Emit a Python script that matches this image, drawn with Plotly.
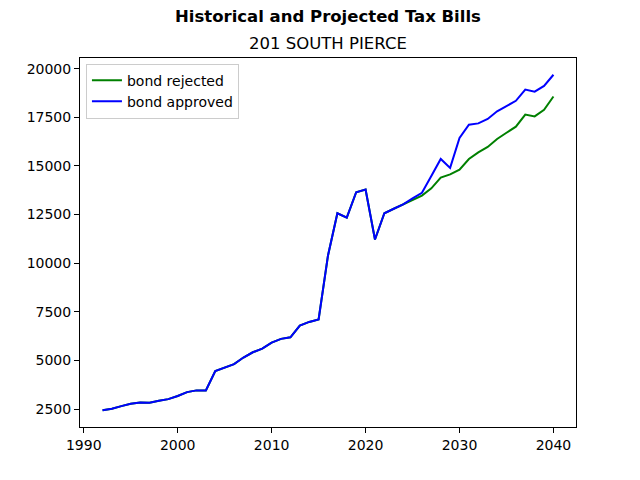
import plotly.graph_objects as go

years = list(range(1992, 2041))

bond_approved = [
    2440, 2515, 2650, 2770, 2840, 2820, 2925, 3010, 3170, 3370,
    3460, 3460, 4450, 4640, 4810, 5150, 5420, 5610, 5920, 6110,
    6190, 6790, 6980, 7110, 10400, 12570, 12340, 13650, 13790, 11220,
    12570, 12800, 13030, 13330, 13620, 14480, 15360, 14900, 16440, 17120,
    17190, 17420, 17810, 18080, 18350, 18930, 18820, 19120, 19690,
]

bond_rejected = [
    2440, 2515, 2650, 2770, 2840, 2820, 2925, 3010, 3170, 3370,
    3460, 3460, 4450, 4640, 4810, 5150, 5420, 5610, 5920, 6110,
    6190, 6790, 6980, 7110, 10400, 12570, 12340, 13650, 13790, 11220,
    12570, 12800, 13030, 13230, 13480, 13850, 14400, 14570, 14810, 15360,
    15700, 15980, 16390, 16710, 17020, 17640, 17550, 17890, 18575,
]

x_ticks = [1990, 2000, 2010, 2020, 2030, 2040]
y_ticks = [2500, 5000, 7500, 10000, 12500, 15000, 17500, 20000]

main_title = "Historical and Projected Tax Bills"
sub_title = "201 SOUTH PIERCE"

xmin, xmax = min(years), max(years)
xpad = (xmax - xmin) * 0.05
allv = bond_approved + bond_rejected
ymin, ymax = min(allv), max(allv)
ypad = (ymax - ymin) * 0.05

fig = go.Figure()
fig.add_trace(go.Scatter(x=years, y=bond_rejected, mode="lines", name="bond rejected",
                         line=dict(color="green", width=2)))
fig.add_trace(go.Scatter(x=years, y=bond_approved, mode="lines", name="bond approved",
                         line=dict(color="blue", width=2)))

axis_common = dict(showgrid=False, zeroline=False, showline=True, linecolor="black",
                   linewidth=1, mirror=True, ticks="outside", ticklen=5, tickcolor="black",
                   tickformat="d",
                   tickfont=dict(family="DejaVu Sans", size=14, color="black"))

# page body has an 8px margin; compensate so the plot area matches the reference
W, H = 632, 472
ml, mr, mt, mb = 72, 64, 50, 53
plot_h = H - mt - mb

fig.update_layout(
    width=W, height=H,
    margin=dict(l=ml, r=mr, t=mt, b=mb),
    paper_bgcolor="white", plot_bgcolor="white",
    font=dict(family="DejaVu Sans", color="black"),
    xaxis=dict(range=[xmin - xpad, xmax + xpad], tickvals=x_ticks, **axis_common),
    yaxis=dict(range=[ymin - ypad, ymax + ypad], tickvals=y_ticks, **axis_common),
    legend=dict(x=0.012, y=0.985, xanchor="left", yanchor="top",
                bgcolor="rgba(255,255,255,0.8)", bordercolor="#cccccc", borderwidth=1,
                tracegroupgap=0, itemwidth=30,
                font=dict(family="DejaVu Sans", size=14, color="black")),
    showlegend=True,
    annotations=[
        dict(text="<b>" + main_title + "</b>", x=0.5, y=1 + (mt - 8) / plot_h,
             xref="paper", yref="paper", yanchor="middle",
             showarrow=False, font=dict(family="DejaVu Sans", size=16.5, color="black")),
        dict(text=sub_title, x=0.5, y=1 + (mt - 35) / plot_h, xref="paper", yref="paper",
             yanchor="middle", showarrow=False,
             font=dict(family="DejaVu Sans", size=16.5, color="black")),
    ],
)

fig.write_html("out.html")
